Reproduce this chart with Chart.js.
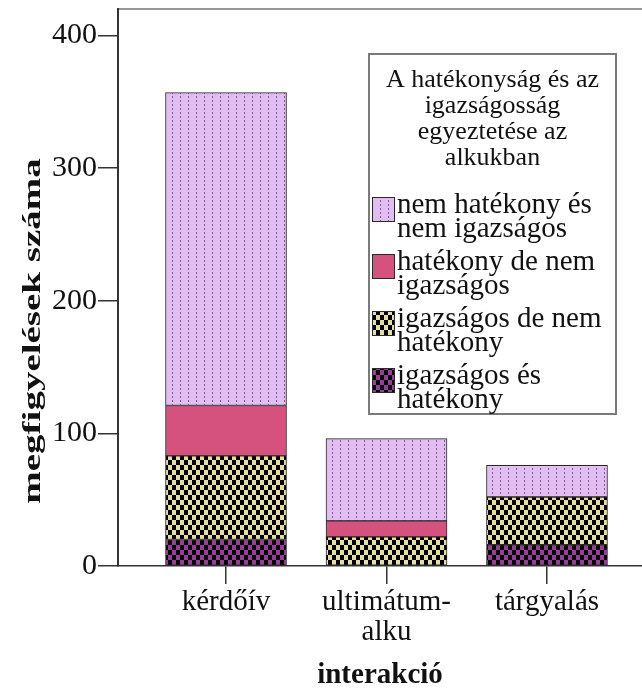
<!DOCTYPE html>
<html>
<head>
<meta charset="utf-8">
<script src="https://cdn.jsdelivr.net/npm/chart.js@4"></script>
<style>
    body { margin: 0; background: #fff; }
    #chart { display: block; }
</style>
</head>
<body>
<canvas id="chart" width="642" height="691"></canvas>
<script>
// adatok (alulról felfelé rakva)
const kategoriak = ['kérdőív', ['ultimátum-', 'alku'], 'tárgyalás'];
const igazsagosEsHatekony = [20, 0, 16];
const igazsagosDeNemHatekony = [63, 22, 36];
const hatekonyDeNemIgazsagos = [38, 12, 0];
const nemHatekonyNemIgazsagos = [236, 62, 24];

const sorozatCimkek = [
    ['igazságos és', 'hatékony'],
    ['igazságos de nem', 'hatékony'],
    ['hatékony de nem', 'igazságos'],
    ['nem hatékony és', 'nem igazságos']
];
const legendCim = ['A hatékonyság és az', 'igazságosság', 'egyeztetése az', 'alkukban'];
const yCim = 'megfigyelések száma';
const xCim = 'interakció';
const yMax = 420;
const yLepes = 100;

const serif = '"Liberation Serif", "Times New Roman", serif';
const chartCanvas = document.getElementById('chart');
const ctx = chartCanvas.getContext('2d');

const checker = (bg, fg, cw, ch) => {
    const c = document.createElement('canvas');
    c.width = cw * 2;
    c.height = ch * 2;
    const g = c.getContext('2d');
    g.fillStyle = bg;
    g.fillRect(0, 0, c.width, c.height);
    g.fillStyle = fg;
    g.fillRect(0, 0, cw, ch);
    g.fillRect(cw, ch, cw, ch);
    return ctx.createPattern(c, 'repeat');
};

const dots = (bg, fg) => {
    const c = document.createElement('canvas');
    c.width = 8;
    c.height = 4;
    const g = c.getContext('2d');
    g.fillStyle = bg;
    g.fillRect(0, 0, 8, 4);
    g.fillStyle = fg;
    g.fillRect(4, 0, 1, 2);
    return ctx.createPattern(c, 'repeat');
};

const szinek = [
    checker('#9a3c9c', '#000', 4, 5),
    checker('#e6dea0', '#000', 4, 5),
    '#d5527f',
    dots('#e2bdf2', '#7a5a8c')
];

const sorozatok = [igazsagosEsHatekony, igazsagosDeNemHatekony, hatekonyDeNemIgazsagos, nemHatekonyNemIgazsagos];

const datasets = sorozatok.map((values, i) => ({
    label: sorozatCimkek[i].join(' '),
    data: values.map((v, idx) => ({ x: idx, y: v })),
    backgroundColor: szinek[i],
    borderColor: '#2a2a2a',
    borderWidth: 1,
    borderSkipped: false,
    barThickness: 121
}));

// függőleges tengelycím (nyújtott betűkkel, mint az eredetin)
const yTitlePlugin = {
    id: 'yTitle',
    afterDraw(chart) {
        const c = chart.ctx;
        c.save();
        c.translate(33, 331);
        c.rotate(-Math.PI / 2);
        c.scale(1.5, 1);
        c.font = 'bold 26px ' + serif;
        c.textAlign = 'center';
        c.textBaseline = 'middle';
        c.fillStyle = '#111';
        c.fillText(yCim, 0, 0);
        c.restore();
    }
};

// jelmagyarázat doboz a rajzterületen belül
const legendPlugin = {
    id: 'boxLegend',
    afterDraw(chart) {
        const c = chart.ctx;
        const left = 369, top = 54, w = 247, h = 360;
        c.save();
        c.fillStyle = '#fff';
        c.fillRect(left, top, w, h);
        c.strokeStyle = '#7a7a7a';
        c.lineWidth = 2;
        c.strokeRect(left, top, w, h);

        c.fillStyle = '#111';
        c.font = '26px ' + serif;
        c.textAlign = 'center';
        c.textBaseline = 'alphabetic';
        legendCim.forEach((line, i) => {
            c.fillText(line, left + w / 2, 87 + i * 26);
        });

        c.textAlign = 'left';
        c.font = '29px ' + serif;
        const ds = chart.data.datasets.slice().reverse();
        const cimkek = sorozatCimkek.slice().reverse();
        ds.forEach((d, i) => {
            const y = 197 + i * 57;
            c.fillStyle = d.backgroundColor;
            c.fillRect(372, y, 22, 24);
            c.strokeStyle = '#2a2a2a';
            c.lineWidth = 1;
            c.strokeRect(372.5, y + 0.5, 22, 24);
            c.fillStyle = '#111';
            cimkek[i].forEach((line, j) => {
                c.fillText(line, 397, y + 16 + j * 24);
            });
        });
        c.restore();
    }
};

new Chart(chartCanvas, {
    type: 'bar',
    data: { datasets: datasets },
    options: {
        responsive: false,
        devicePixelRatio: 1,
        animation: false,
        layout: { padding: 0 },
        plugins: {
            legend: { display: false },
            tooltip: { enabled: false }
        },
        scales: {
            x: {
                type: 'linear',
                stacked: true,
                min: -0.673,
                max: 2.592,
                offset: false,
                afterBuildTicks: (scale) => {
                    scale.ticks = kategoriak.map((_, i) => ({ value: i }));
                },
                afterFit: (scale) => {
                    scale.height = 125;
                    scale.paddingLeft = 0;
                    scale.paddingRight = 0;
                },
                ticks: {
                    callback: (value) => kategoriak[value],
                    font: { family: serif, size: 29, lineHeight: '30px' },
                    color: '#111',
                    padding: 3,
                    maxRotation: 0,
                    autoSkip: false
                },
                grid: {
                    offset: false,
                    drawOnChartArea: false,
                    drawTicks: true,
                    tickLength: 18,
                    color: '#333',
                    lineWidth: 1.5
                },
                border: { display: true, color: '#333', width: 1.5 },
                title: {
                    display: true,
                    text: xCim,
                    font: { family: serif, size: 29, weight: 'bold', lineHeight: '30px' },
                    color: '#111',
                    padding: { top: 0, bottom: 0 }
                }
            },
            x2: {
                type: 'linear',
                position: 'top',
                display: true,
                afterFit: (scale) => {
                    scale.height = 9;
                    scale.paddingLeft = 0;
                    scale.paddingRight = 0;
                },
                ticks: { display: false },
                grid: { display: false },
                border: { display: true, color: '#999', width: 2 }
            },
            y: {
                stacked: true,
                min: 0,
                max: yMax,
                afterFit: (scale) => {
                    scale.width = 118;
                    scale.paddingTop = 0;
                    scale.paddingBottom = 0;
                },
                ticks: {
                    stepSize: yLepes,
                    includeBounds: false,
                    font: { family: serif, size: 30 },
                    color: '#111',
                    padding: 1
                },
                grid: {
                    drawOnChartArea: false,
                    drawTicks: true,
                    tickLength: 20,
                    color: '#333',
                    lineWidth: 1.5
                },
                border: { display: true, color: '#333', width: 2 },
                title: { display: false }
            }
        }
    },
    plugins: [yTitlePlugin, legendPlugin]
});
</script>
</body>
</html>
